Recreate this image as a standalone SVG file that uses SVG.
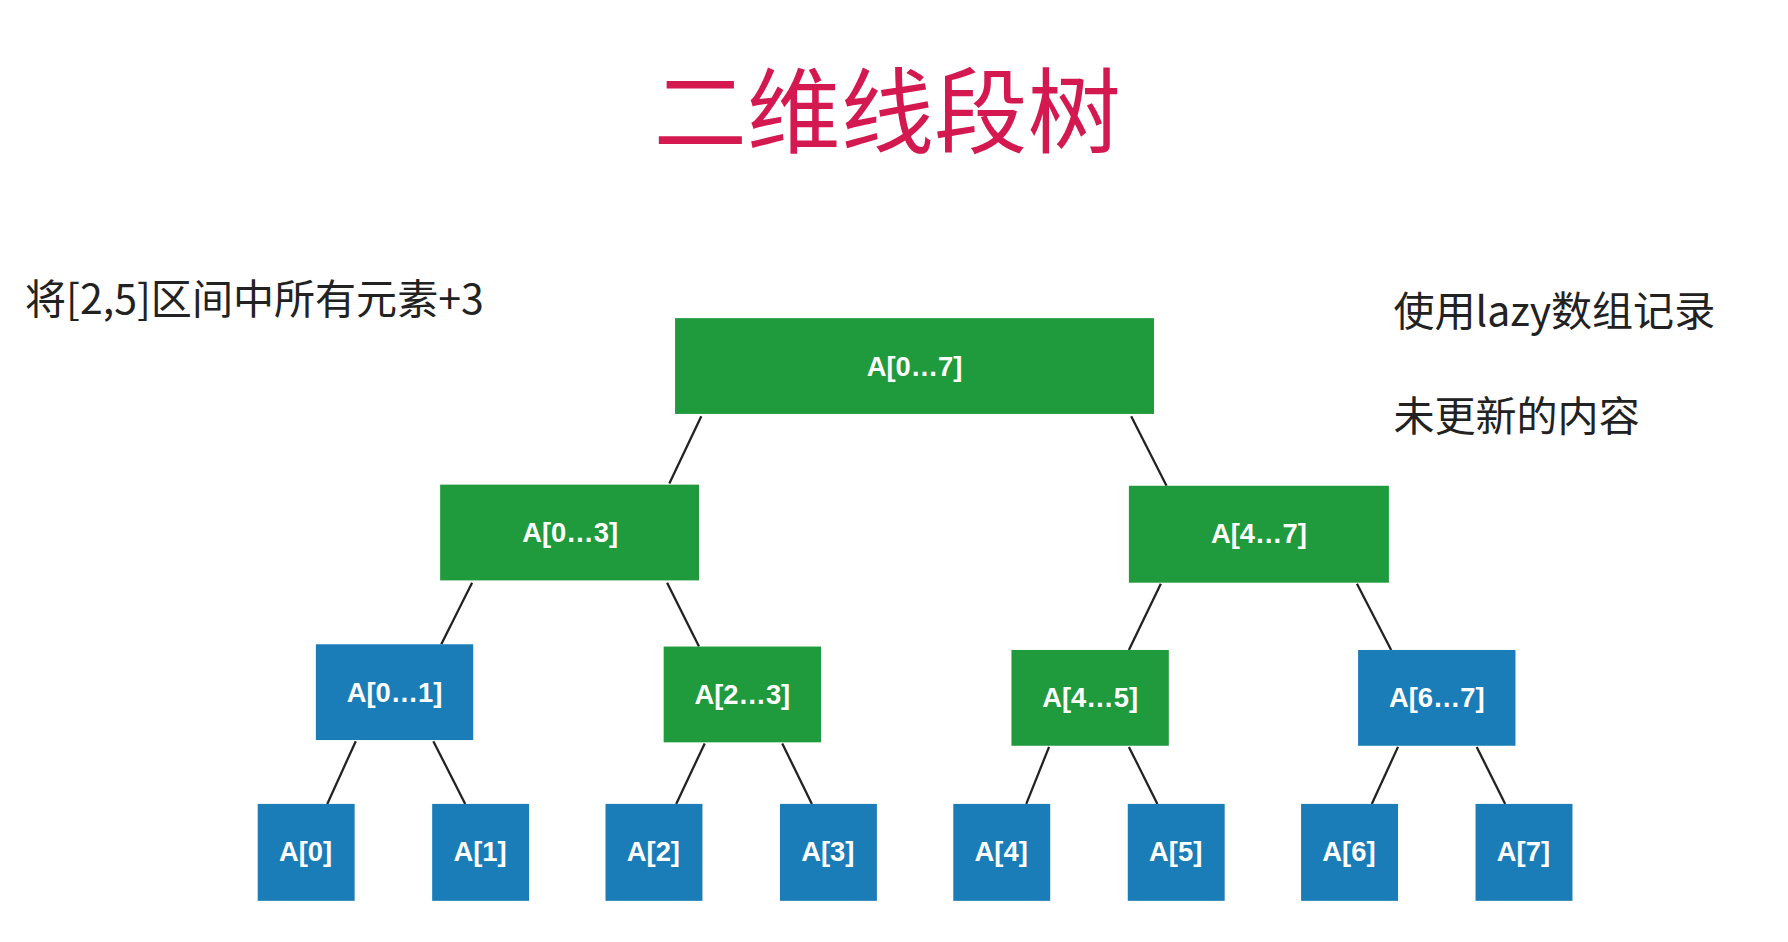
<svg xmlns="http://www.w3.org/2000/svg" width="1788" height="942" viewBox="0 0 1788 942">
<style>
.g{fill:#1f9a3c}.b{fill:#1a7db8}
.t{font-family:"Liberation Sans","Noto Sans CJK SC",sans-serif;font-weight:bold;font-size:24px;fill:#fff;text-anchor:middle;dominant-baseline:central}
.c{font-family:"Noto Sans CJK SC",sans-serif;font-size:36px;fill:#222}
line{stroke:#222;stroke-width:2}
</style>
<rect width="1788" height="942" fill="#fff"/>
<g transform="scale(1.1403)">
<text x="778" y="128" font-family="Noto Sans CJK SC,sans-serif" font-size="82" fill="#d3194f" text-anchor="middle">二维线段树</text>
<text class="c" x="22" y="275">将[2,5]区间中所有元素+3</text>
<text class="c" x="1222" y="286">使用lazy数组记录</text>
<text class="c" x="1222" y="378">未更新的内容</text>
<g id="connectors">
<line x1="615" y1="365" x2="587" y2="424"/><line x1="992" y1="365" x2="1023" y2="426"/>
<line x1="414" y1="511" x2="387" y2="565"/><line x1="585" y1="511" x2="613" y2="567"/>
<line x1="1018" y1="512" x2="990" y2="570"/><line x1="1190" y1="512" x2="1220" y2="570"/>
<line x1="312" y1="650" x2="287" y2="705"/><line x1="380" y1="650" x2="408" y2="705"/>
<line x1="618" y1="652" x2="593" y2="705"/><line x1="686" y1="652" x2="712" y2="705"/>
<line x1="920" y1="655" x2="900" y2="705"/><line x1="990" y1="655" x2="1015" y2="705"/>
<line x1="1226" y1="655" x2="1203" y2="705"/><line x1="1295" y1="655" x2="1320" y2="705"/>
</g>
<g id="n07"><rect class="g" x="592" y="279" width="420" height="84"/><text class="t" x="802" y="321">A[0…7]</text></g>
<g id="n03"><rect class="g" x="386" y="425" width="227" height="84"/><text class="t" x="500" y="467">A[0…3]</text></g>
<g id="n47"><rect class="g" x="990" y="426" width="228" height="85"/><text class="t" x="1104" y="468">A[4…7]</text></g>
<g id="n01"><rect class="b" x="277" y="565" width="138" height="84"/><text class="t" x="346" y="607">A[0…1]</text></g>
<g id="n23"><rect class="g" x="582" y="567" width="138" height="84"/><text class="t" x="651" y="609">A[2…3]</text></g>
<g id="n45"><rect class="g" x="887" y="570" width="138" height="84"/><text class="t" x="956" y="612">A[4…5]</text></g>
<g id="n67"><rect class="b" x="1191" y="570" width="138" height="84"/><text class="t" x="1260" y="612">A[6…7]</text></g>
<g id="a0"><rect class="b" x="226" y="705" width="85" height="85"/><text class="t" x="268" y="747">A[0]</text></g>
<g id="a1"><rect class="b" x="379" y="705" width="85" height="85"/><text class="t" x="421" y="747">A[1]</text></g>
<g id="a2"><rect class="b" x="531" y="705" width="85" height="85"/><text class="t" x="573" y="747">A[2]</text></g>
<g id="a3"><rect class="b" x="684" y="705" width="85" height="85"/><text class="t" x="726" y="747">A[3]</text></g>
<g id="a4"><rect class="b" x="836" y="705" width="85" height="85"/><text class="t" x="878" y="747">A[4]</text></g>
<g id="a5"><rect class="b" x="989" y="705" width="85" height="85"/><text class="t" x="1031" y="747">A[5]</text></g>
<g id="a6"><rect class="b" x="1141" y="705" width="85" height="85"/><text class="t" x="1183" y="747">A[6]</text></g>
<g id="a7"><rect class="b" x="1294" y="705" width="85" height="85"/><text class="t" x="1336" y="747">A[7]</text></g>
</g>
</svg>
